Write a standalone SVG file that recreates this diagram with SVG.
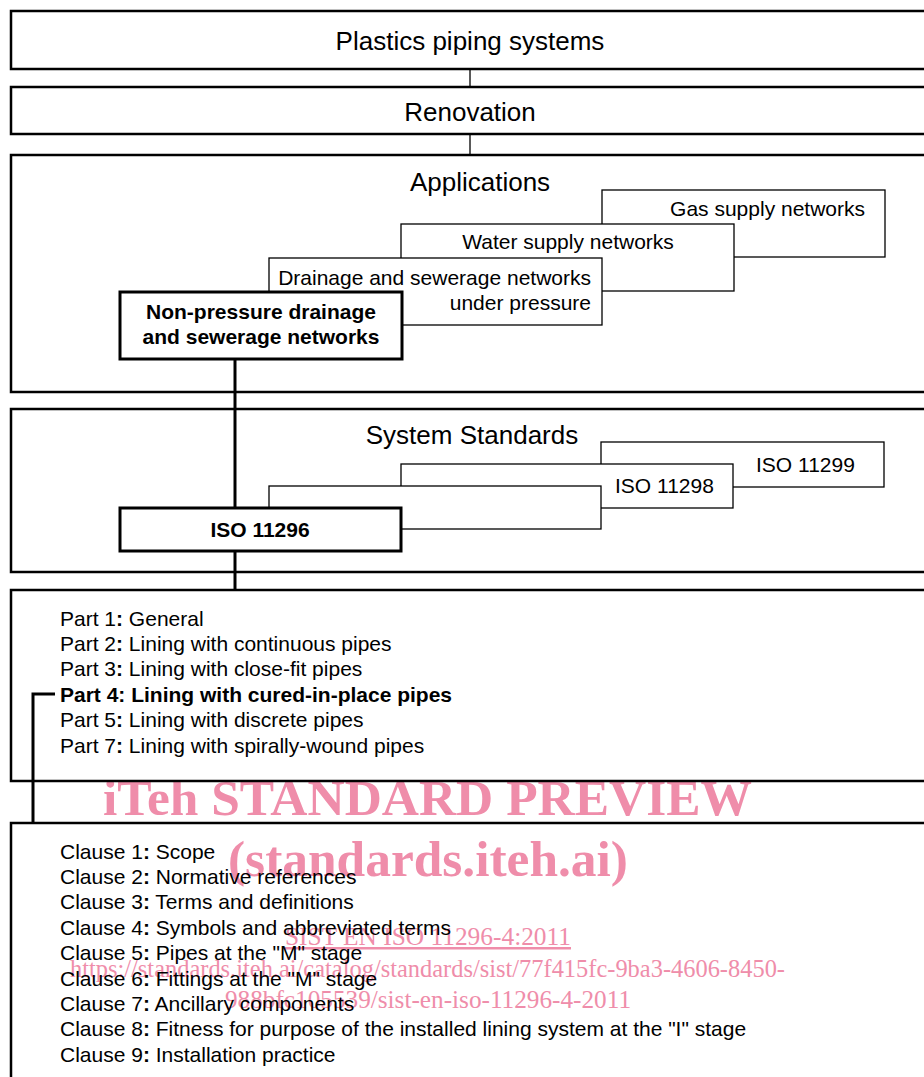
<svg xmlns="http://www.w3.org/2000/svg" width="924" height="1077" viewBox="0 0 924 1077">
<style>
text{font-family:"Liberation Sans",Arial,sans-serif;fill:#000}
.t26{font-size:26px}
.t21{font-size:21px}
.b{font-weight:bold}
.outer{fill:none;stroke:#000;stroke-width:2.5}
.inner{fill:#fff;stroke:#000;stroke-width:1.3}
.thick{fill:#fff;stroke:#000;stroke-width:3}
.thin{stroke:#000;stroke-width:1.3;fill:none}
.heavy{stroke:#000;stroke-width:3;fill:none}
.wm{font-family:"Liberation Serif","Times New Roman",serif;fill:#EF8DAA}
</style>
<rect width="924" height="1077" fill="#fff"/>
<g id="watermark">
<text class="wm" x="103" y="815" font-size="51" font-weight="bold" textLength="649" lengthAdjust="spacingAndGlyphs">iTeh STANDARD PREVIEW</text>
<text class="wm" x="228" y="876" font-size="51" font-weight="bold" textLength="400" lengthAdjust="spacingAndGlyphs">(standards.iteh.ai)</text>
<text class="wm" x="285" y="945" font-size="25" text-decoration="underline" textLength="286" lengthAdjust="spacingAndGlyphs">SIST EN ISO 11296-4:2011</text>
<text class="wm" x="70" y="977" font-size="25" textLength="715" lengthAdjust="spacingAndGlyphs">https://standards.iteh.ai/catalog/standards/sist/77f415fc-9ba3-4606-8450-</text>
<text class="wm" x="225" y="1008" font-size="25" textLength="406" lengthAdjust="spacingAndGlyphs">988bfc105539/sist-en-iso-11296-4-2011</text>
</g>
<g id="connectors">
<line class="thin" x1="470" y1="69" x2="470" y2="87"/>
<line class="thin" x1="470" y1="134" x2="470" y2="155"/>
<line class="heavy" x1="235" y1="359" x2="235" y2="508"/>
<line class="heavy" x1="235" y1="551" x2="235" y2="590"/>
<polyline class="heavy" points="55,694 33,694 33,823"/>
</g>
<g id="plastics">
<rect class="outer" x="11" y="11" width="1000" height="58"/>
<text class="t26" x="470" y="50" text-anchor="middle">Plastics piping systems</text>
</g>
<g id="renovation">
<rect class="outer" x="11" y="87" width="1000" height="47"/>
<text class="t26" x="470" y="121" text-anchor="middle">Renovation</text>
</g>
<g id="applications">
<rect class="outer" x="11" y="155" width="1000" height="237"/>
<text class="t26" x="480" y="191" text-anchor="middle">Applications</text>
</g>
<g id="gas">
<rect class="inner" x="602" y="190" width="283" height="67"/>
<text class="t21" x="865" y="215.5" text-anchor="end">Gas supply networks</text>
</g>
<g id="water">
<rect class="inner" x="401" y="224" width="333" height="67"/>
<text class="t21" x="568" y="248.5" text-anchor="middle">Water supply networks</text>
</g>
<g id="drainage-pressure">
<rect class="inner" x="269" y="258" width="333" height="67"/>
<text class="t21" x="591" y="284.5" text-anchor="end">Drainage and sewerage networks</text>
<text class="t21" x="591" y="309.5" text-anchor="end">under pressure</text>
</g>
<g id="non-pressure">
<rect class="thick" x="120" y="292" width="282" height="67"/>
<text class="t21 b" x="261" y="318.5" text-anchor="middle">Non-pressure drainage</text>
<text class="t21 b" x="261" y="343.5" text-anchor="middle">and sewerage networks</text>
</g>
<g id="system-standards">
<rect class="outer" x="11" y="409" width="1000" height="163"/>
<text class="t26" x="472" y="444" text-anchor="middle">System Standards</text>
</g>
<g id="iso11299">
<rect class="inner" x="601" y="442" width="283" height="45"/>
<text class="t21" x="756" y="471.5">ISO 11299</text>
</g>
<g id="iso11298">
<rect class="inner" x="401" y="464" width="332" height="44"/>
<text class="t21" x="615" y="492.5">ISO 11298</text>
</g>
<g id="iso-blank">
<rect class="inner" x="269" y="486" width="332" height="43"/>
</g>
<g id="iso11296">
<rect class="thick" x="120" y="508" width="281" height="43"/>
<text class="t21 b" x="260" y="536.5" text-anchor="middle">ISO 11296</text>
</g>
<g id="parts">
<rect class="outer" x="11" y="590" width="1000" height="191"/>
<text class="t21" x="60" y="625.5">Part 1<tspan class="b">:</tspan> General</text>
<text class="t21" x="60" y="650.9">Part 2<tspan class="b">:</tspan> Lining with continuous pipes</text>
<text class="t21" x="60" y="676.3">Part 3<tspan class="b">:</tspan> Lining with close-fit pipes</text>
<text class="t21 b" x="60" y="701.7">Part 4: Lining with cured-in-place pipes</text>
<text class="t21" x="60" y="727.1">Part 5<tspan class="b">:</tspan> Lining with discrete pipes</text>
<text class="t21" x="60" y="752.5">Part 7<tspan class="b">:</tspan> Lining with spirally-wound pipes</text>
</g>
<g id="clauses">
<rect class="outer" x="11" y="823" width="1000" height="300"/>
<text class="t21" x="60" y="858.5">Clause 1<tspan class="b">:</tspan> Scope</text>
<text class="t21" x="60" y="883.9">Clause 2<tspan class="b">:</tspan> Normative references</text>
<text class="t21" x="60" y="909.3">Clause 3<tspan class="b">:</tspan> Terms and definitions</text>
<text class="t21" x="60" y="934.7">Clause 4<tspan class="b">:</tspan> Symbols and abbreviated terms</text>
<text class="t21" x="60" y="960.1">Clause 5<tspan class="b">:</tspan> Pipes at the "M" stage</text>
<text class="t21" x="60" y="985.5">Clause 6<tspan class="b">:</tspan> Fittings at the "M" stage</text>
<text class="t21" x="60" y="1010.9">Clause 7<tspan class="b">:</tspan> Ancillary components</text>
<text class="t21" x="60" y="1036.3">Clause 8<tspan class="b">:</tspan> Fitness for purpose of the installed lining system at the "I" stage</text>
<text class="t21" x="60" y="1061.7">Clause 9<tspan class="b">:</tspan> Installation practice</text>
</g>
</svg>
